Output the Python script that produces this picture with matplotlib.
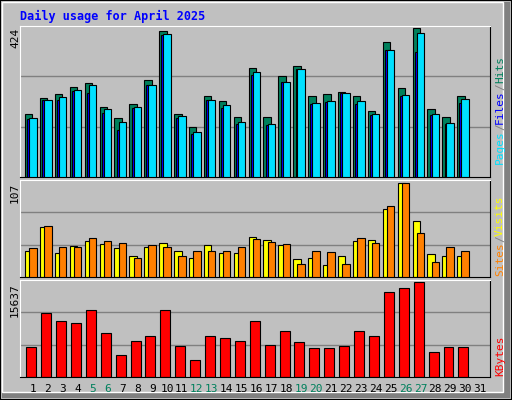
import matplotlib
matplotlib.use("Agg")
import matplotlib.pyplot as plt
from matplotlib.patches import Rectangle

days = list(range(1, 32))
hits   = [181,225,236,256,268,201,167,207,277,418,181,144,230,216,170,311,170,288,317,230,236,243,230,187,384,253,424,193,170,230]
files  = [165,219,219,246,239,184,135,196,262,405,167,123,219,196,150,292,147,270,308,207,213,239,207,178,363,230,358,178,152,210]
pages  = [167,219,228,248,262,193,158,201,262,407,173,129,219,205,158,300,152,270,308,210,216,239,216,181,363,233,410,181,155,222]
sites  = [30,57,27,35,41,37,33,24,34,38,29,22,36,27,27,45,42,36,20,22,14,24,41,42,77,107,64,26,24,24]
visits = [33,58,34,34,44,41,38,22,36,34,24,29,29,30,34,43,40,37,15,29,28,15,44,38,80,107,50,17,34,29]
kbytes = [5022,10500,9302,8960,11015,7248,3652,5878,6734,11015,5193,2796,6734,6392,5878,9302,5365,7590,5707,4851,4851,5193,7590,6734,14096,14781,15637,4166,5022,5022]
weekend = [5,6,12,13,19,20,26,27]

BG = "#C0C0C0"
fig = plt.figure(figsize=(5.12, 4.0), dpi=100, facecolor=BG)
W, H = 512, 400

fig.patches.append(Rectangle(((W-9)/W, 2/H), 7/W, 1-4/H, transform=fig.transFigure, fc="#808080", ec="none"))
fig.patches.append(Rectangle((2/W, 2/H), 1-4/W, 6/H, transform=fig.transFigure, fc="#808080", ec="none"))
fig.patches.append(Rectangle((0, 0), 1, 1, transform=fig.transFigure, fill=False, ec="black", lw=1.5))
fig.patches.append(Rectangle((2/W, 8/H), 1-11/W, 1-10/H, transform=fig.transFigure, fill=False, ec="white", lw=1))

def mkax(top, bottom):
    ax = fig.add_axes([20/W, (H-bottom)/H, 470/W, (bottom-top)/H])
    ax.set_facecolor(BG)
    ax.set_xticks([]); ax.set_yticks([])
    ax.set_xlim(0.133, 31.67)
    for s in ax.spines.values():
        s.set_color("black")
    ax.spines["top"].set_color("white"); ax.spines["left"].set_color("white")
    return ax

def grid(ax, vmax):
    for f in (1/3, 2/3):
        ax.axhline(vmax*f, color="#808080", lw=1, zorder=0)

d = days[:30]
ax1 = mkax(26, 177)
vmax1 = 431
ax1.set_ylim(0, vmax1); grid(ax1, vmax1)
ax1.bar([x-0.53 for x in d], hits, width=0.5, align="edge", color="#00805C", ec="black", lw=0.8, zorder=2)
ax1.bar([x-0.38 for x in d], files, width=0.4, align="edge", color="#0000FF", ec="black", lw=0.8, zorder=3)
ax1.bar([x-0.25 for x in d], pages, width=0.5, align="edge", color="#00E0FF", ec="black", lw=0.8, zorder=4)

ax2 = mkax(180, 277)
vmax2 = 110
ax2.set_ylim(0, vmax2); grid(ax2, vmax2)
ax2.bar([x-0.53 for x in d], sites, width=0.5, align="edge", color="#FFFF00", ec="black", lw=0.8, zorder=2)
ax2.bar([x-0.25 for x in d], visits, width=0.5, align="edge", color="#FF8000", ec="black", lw=0.8, zorder=3)

ax3 = mkax(280, 377)
vmax3 = 16036
ax3.set_ylim(0, vmax3); grid(ax3, vmax3)
ax3.bar([x-0.45 for x in d], kbytes, width=0.67, align="edge", color="#FF0000", ec="black", lw=0.8, zorder=2)

mono = "DejaVu Sans Mono"
fig.text(20/W, 1-16/H, "Daily usage for April 2025", color="#0000FF", fontsize=8.5, fontweight="bold", family=mono, va="center")
for y, lab in ((28, "424"), (183, "107"), (283, "15637")):
    fig.text(15/W, 1-y/H, lab, rotation=90, fontsize=8, family=mono, ha="center", va="top")

renderer = fig.canvas.get_renderer()
def right_label(ybot, parts):
    y = ybot
    for txt, col in parts:
        t = fig.text(500/W, 1-y/H, txt, rotation=90, fontsize=8, family=mono, color=col, ha="center", va="bottom")
        bb = t.get_window_extent(renderer)
        y -= bb.height
right_label(164, [("Pages", "#00E0FF"), ("/", "#808080"), ("Files", "#0000FF"), ("/", "#808080"), ("Hits", "#00805C")])
right_label(276, [("Sites", "#FF8000"), ("/", "#808080"), ("Visits", "#FFFF00")])
right_label(376, [("KBytes", "#FF0000")])

for day in days:
    x = 20 + (day - 0.133)/(31.67-0.133)*470
    fig.text(x/W, 1-389/H, str(day), fontsize=8, family=mono, ha="center", va="center",
             color="#00805C" if day in weekend else "black")

fig.savefig("out.png", dpi=100, facecolor=BG)
